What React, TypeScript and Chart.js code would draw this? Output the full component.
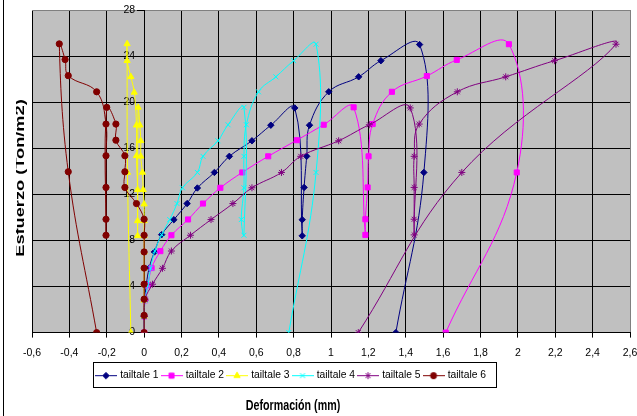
import { useEffect, useRef } from 'react';
import { Chart, registerables } from 'chart.js';

Chart.register(...registerables);

const SERIES_NAMES = ['tailtale 1', 'tailtale 2', 'tailtale 3', 'tailtale 4', 'tailtale 5', 'tailtale 6'];

const s1x = [0, 0, 0.003, 0.012, 0.027, 0.055, 0.094, 0.159, 0.23, 0.285, 0.376, 0.456, 0.577, 0.678, 0.806, 0.846, 0.846, 0.856, 0.87, 0.885, 0.988, 1.148, 1.267, 1.474, 1.497, 1.347];
const s1y = [0, 1.4, 2.8, 4.2, 5.6, 7.0, 8.5, 9.8, 11.2, 12.55, 13.9, 15.3, 16.65, 18.0, 19.5, 8.4, 9.8, 12.6, 15.3, 18.0, 20.9, 22.2, 23.6, 25.0, 13.9, 0];

const s2x = [0, 0, 0.005, 0.02, 0.04, 0.087, 0.146, 0.235, 0.315, 0.408, 0.525, 0.664, 0.817, 0.961, 1.121, 1.184, 1.184, 1.196, 1.201, 1.223, 1.326, 1.513, 1.673, 1.952, 1.994, 1.614];
const s2y = [0, 1.4, 2.8, 4.1, 5.6, 7.07, 8.45, 9.82, 11.2, 12.57, 13.9, 15.3, 16.7, 18.04, 19.55, 8.48, 9.84, 12.6, 15.3, 18.1, 20.9, 22.27, 23.67, 25.03, 13.9, 0];

const s3x = [0, 0, 0, 0, 0, 0, 0, 0, 0, -0.005, -0.009, -0.018, -0.018, -0.023, -0.032, -0.035, -0.035, -0.035, -0.041, -0.041, -0.053, -0.071, -0.091, -0.091, -0.089, -0.071];
const s3y = [0, 1.4, 2.8, 4.2, 5.6, 7.0, 8.4, 9.7, 11.15, 12.4, 13.9, 15.3, 16.65, 18.0, 19.55, 8.4, 9.7, 12.4, 15.35, 18.0, 20.85, 22.2, 23.6, 25.06, 13.9, 0];

const s4x = [0, 0, 0.005, 0.02, 0.035, 0.057, 0.094, 0.137, 0.176, 0.205, 0.285, 0.315, 0.395, 0.449, 0.534, 0.534, 0.52, 0.534, 0.534, 0.547, 0.612, 0.705, 0.8, 0.92, 0.92, 0.774];
const s4y = [0, 1.4, 2.8, 4.1, 5.6, 7.08, 8.5, 9.81, 11.2, 12.57, 13.9, 15.3, 16.65, 18.04, 19.55, 8.45, 9.81, 12.57, 15.3, 18.04, 20.9, 22.2, 23.6, 25.03, 13.9, 0];

const s5x = [0, 0, 0.005, 0.045, 0.098, 0.146, 0.248, 0.358, 0.475, 0.577, 0.735, 0.838, 1.041, 1.205, 1.424, 1.445, 1.445, 1.445, 1.445, 1.472, 1.676, 1.935, 2.196, 2.525, 1.7, 1.146];
const s5y = [0, 1.4, 2.9, 4.2, 5.58, 7.08, 8.45, 9.81, 11.2, 12.57, 13.9, 15.3, 16.65, 18.04, 19.5, 8.48, 9.84, 12.6, 15.3, 18.1, 20.9, 22.2, 23.6, 25.03, 13.9, 0];

const s6x = [0, 0, 0, 0, 0, 0, 0, 0, -0.041, -0.103, -0.103, -0.103, -0.151, -0.151, -0.2, -0.204, -0.204, -0.204, -0.204, -0.204, -0.254, -0.406, -0.423, -0.454, -0.406, -0.254];
const s6y = [0, 1.5, 2.9, 4.2, 5.6, 7.0, 8.45, 9.84, 11.2, 12.6, 13.96, 15.35, 16.7, 18.1, 19.55, 8.45, 9.84, 12.6, 15.35, 18.1, 20.9, 22.3, 23.7, 25.06, 13.96, 0];

const SERIES_X = [s1x, s2x, s3x, s4x, s5x, s6x];
const SERIES_Y = [s1y, s2y, s3y, s4y, s5y, s6y];

const X_MIN = -0.6;
const X_MAX = 2.6;
const X_STEP = 0.2;
const Y_MIN = 0;
const Y_MAX = 28;
const Y_STEP = 4;

const X_TITLE = 'Deformación (mm)';
const Y_TITLE = 'Esfuerzo (Ton/m2)';

const COLORS = ['#000080', '#FF00FF', '#FFFF00', '#00FFFF', '#800080', '#800000'];
const POINT_STYLES = ['rectRot', 'rect', 'triangle', 'crossRot', 'star', 'circle'];
const POINT_RADII = [3.2, 3.6, 3.6, 3.5, 3.5, 3.1];

function hasFont(name: string): boolean {
  const c = document.createElement('canvas').getContext('2d');
  if (!c) return false;
  c.font = `100px "${name}", monospace`;
  const a = c.measureText('abcdefghijklmnop').width;
  c.font = '100px monospace';
  const b = c.measureText('abcdefghijklmnop').width;
  return Math.abs(a - b) > 0.5;
}

function drawMarker(g: CanvasRenderingContext2D, style: string, x: number, y: number, r: number) {
  g.beginPath();
  let fill = true;
  if (style === 'circle') {
    g.arc(x, y, r, 0, Math.PI * 2);
  } else if (style === 'rect') {
    const s = r * Math.SQRT1_2;
    g.rect(x - s, y - s, 2 * s, 2 * s);
  } else if (style === 'rectRot') {
    g.moveTo(x - r, y); g.lineTo(x, y - r); g.lineTo(x + r, y); g.lineTo(x, y + r); g.closePath();
  } else if (style === 'triangle') {
    const h = r * 1.5;
    g.moveTo(x, y - r); g.lineTo(x + r * 0.866, y + h - r); g.lineTo(x - r * 0.866, y + h - r); g.closePath();
  } else if (style === 'crossRot') {
    fill = false;
    const s = r * Math.SQRT1_2;
    g.moveTo(x - s, y - s); g.lineTo(x + s, y + s); g.moveTo(x - s, y + s); g.lineTo(x + s, y - s);
  } else if (style === 'star') {
    fill = false;
    const s = r * Math.SQRT1_2;
    g.moveTo(x - s, y - s); g.lineTo(x + s, y + s); g.moveTo(x - s, y + s); g.lineTo(x + s, y - s);
    g.moveTo(x, y - r); g.lineTo(x, y + r);
  }
  if (fill) g.fill();
  g.stroke();
}

function makeIcon(color: string, style: string, r: number): HTMLCanvasElement {
  const c = document.createElement('canvas');
  c.width = 22; c.height = 12;
  const g = c.getContext('2d')!;
  g.strokeStyle = color; g.fillStyle = color; g.lineWidth = 1;
  g.beginPath(); g.moveTo(0, 6.5); g.lineTo(22, 6.5); g.stroke();
  drawMarker(g, style, 11, 6.5, r);
  return c;
}

function fmtX(v: number): string {
  if (Math.abs(v - Math.round(v)) < 1e-9) return String(Math.round(v));
  return v.toFixed(1).replace('.', ',');
}

export default function App() {
  const ref = useRef<HTMLCanvasElement>(null);
  useEffect(() => {
    document.body.style.margin = '0';
    const narrow = hasFont('Liberation Sans Narrow');
    const tickFont = narrow
      ? { family: '"Liberation Sans Narrow", "Liberation Sans", Arial, sans-serif', size: 12.5 }
      : { family: '"Liberation Sans", Arial, sans-serif', size: 10.5 };
    const legendFont = narrow
      ? { family: '"Liberation Sans Narrow", "Liberation Sans", Arial, sans-serif', size: 12.5 }
      : { family: '"Liberation Sans", Arial, sans-serif', size: 10.3 };

    const icons = COLORS.map((c, i) => makeIcon(c, POINT_STYLES[i], POINT_RADII[i]));

    const datasets = SERIES_NAMES.map((name, i) => ({
      label: name,
      data: SERIES_X[i].map((x, j) => ({ x, y: SERIES_Y[i][j] })),
      showLine: true,
      borderColor: COLORS[i],
      backgroundColor: COLORS[i],
      borderWidth: 1,
      tension: 0.4,
      pointStyle: POINT_STYLES[i] as any,
      pointRadius: POINT_RADII[i],
      pointBorderWidth: 1,
      pointBackgroundColor: COLORS[i],
      pointBorderColor: COLORS[i],
      order: SERIES_NAMES.length - i,
    }));

    const decor = {
      id: 'decor',
      beforeDraw(chart: any) {
        const { ctx, chartArea: a } = chart;
        ctx.save();
        ctx.fillStyle = '#C0C0C0';
        ctx.fillRect(a.left, a.top, a.right - a.left, a.bottom - a.top);
        ctx.restore();
      },
      afterLayout(chart: any) {
        const lg = chart.legend;
        if (lg) {
          const h = lg.height;
          lg.left = 93;
          lg.right = 637;
          lg.top = 366;
          lg.bottom = 366 + h;
        }
      },
      afterDraw(chart: any) {
        const { ctx } = chart;
        ctx.save();
        ctx.fillStyle = '#000';
        ctx.fillRect(3, 0, 1, 416);
        ctx.strokeStyle = '#000';
        ctx.lineWidth = 1;
        ctx.strokeRect(93.5, 362.5, 403, 25);
        // x title
        ctx.save();
        ctx.translate(293, 410);
        ctx.scale(1, 1.4);
        ctx.font = 'bold 10.7px "Liberation Sans", Arial, sans-serif';
        ctx.textAlign = 'center';
        ctx.textBaseline = 'alphabetic';
        ctx.fillText(X_TITLE, 0, 0);
        ctx.restore();
        // y title
        ctx.save();
        ctx.beginPath();
        ctx.rect(16, 0, 637, 416);
        ctx.clip();
        ctx.translate(23.5, 178);
        ctx.rotate(-Math.PI / 2);
        ctx.scale(1.4, 1);
        ctx.font = 'bold 13px "Liberation Sans", Arial, sans-serif';
        ctx.textAlign = 'center';
        ctx.textBaseline = 'alphabetic';
        ctx.fillText(Y_TITLE, 0, 0);
        ctx.restore();
        ctx.restore();
      },
    };

    const chart = new Chart(ref.current!, {
      type: 'scatter',
      data: { datasets: datasets as any },
      options: {
        animation: false,
        responsive: false,
        events: [],
        layout: { padding: { left: 32, right: 7, top: 10, bottom: 23.5 } },
        scales: {
          x: {
            type: 'linear',
            min: X_MIN,
            max: X_MAX,
            ticks: {
              stepSize: X_STEP,
              color: '#000',
              font: tickFont,
              padding: 9,
              maxRotation: 0,
              autoSkip: false,
              callback: (v: any) => fmtX(Number(v)),
            },
            grid: {
              color: (c: any) => (c.tick && Math.abs(c.tick.value - X_MAX) < 1e-9 ? '#808080' : '#000'),
              lineWidth: 1,
              tickLength: 5,
              tickColor: '#000',
            },
            border: { color: '#000', width: 1 },
            afterFit: (s: any) => { s.paddingLeft = 0; s.paddingRight = 0; },
          } as any,
          y: {
            type: 'linear',
            min: Y_MIN,
            max: Y_MAX,
            position: { x: 0 } as any,
            ticks: {
              stepSize: Y_STEP,
              display: false,
            },
            grid: {
              color: (c: any) => (c.tick && c.tick.value === Y_MAX ? '#808080' : '#000'),
              lineWidth: 1,
              tickLength: 7,
              tickColor: '#000',
            },
            border: { color: '#000', width: 1 },
          } as any,
          yLabels: {
            type: 'linear',
            axis: 'y',
            min: Y_MIN,
            max: Y_MAX,
            position: { x: -0.048 } as any,
            ticks: {
              stepSize: Y_STEP,
              color: '#000',
              font: tickFont,
              padding: 0,
            },
            grid: { display: false, drawTicks: false },
            border: { display: false },
          } as any,
        },
        plugins: {
          tooltip: { enabled: false },
          legend: {
            position: 'bottom',
            align: 'start',
            fullSize: true,
            labels: {
              usePointStyle: true,
              pointStyleWidth: 18,
              padding: 4,
              color: '#000',
              font: legendFont,
              generateLabels: (ch: any) =>
                ch.data.datasets.map((ds: any, i: number) => ({
                  text: ds.label,
                  pointStyle: icons[i],
                  fillStyle: COLORS[i],
                  strokeStyle: COLORS[i],
                  lineWidth: 0,
                  hidden: false,
                  datasetIndex: i,
                  fontColor: '#000',
                })),
            },
          },
        },
      },
      plugins: [decor],
    });
    return () => chart.destroy();
  }, []);
  return (
    <div style={{ width: 637, height: 416 }}>
      <canvas ref={ref} width={637} height={416} style={{ display: 'block' }} />
    </div>
  );
}
